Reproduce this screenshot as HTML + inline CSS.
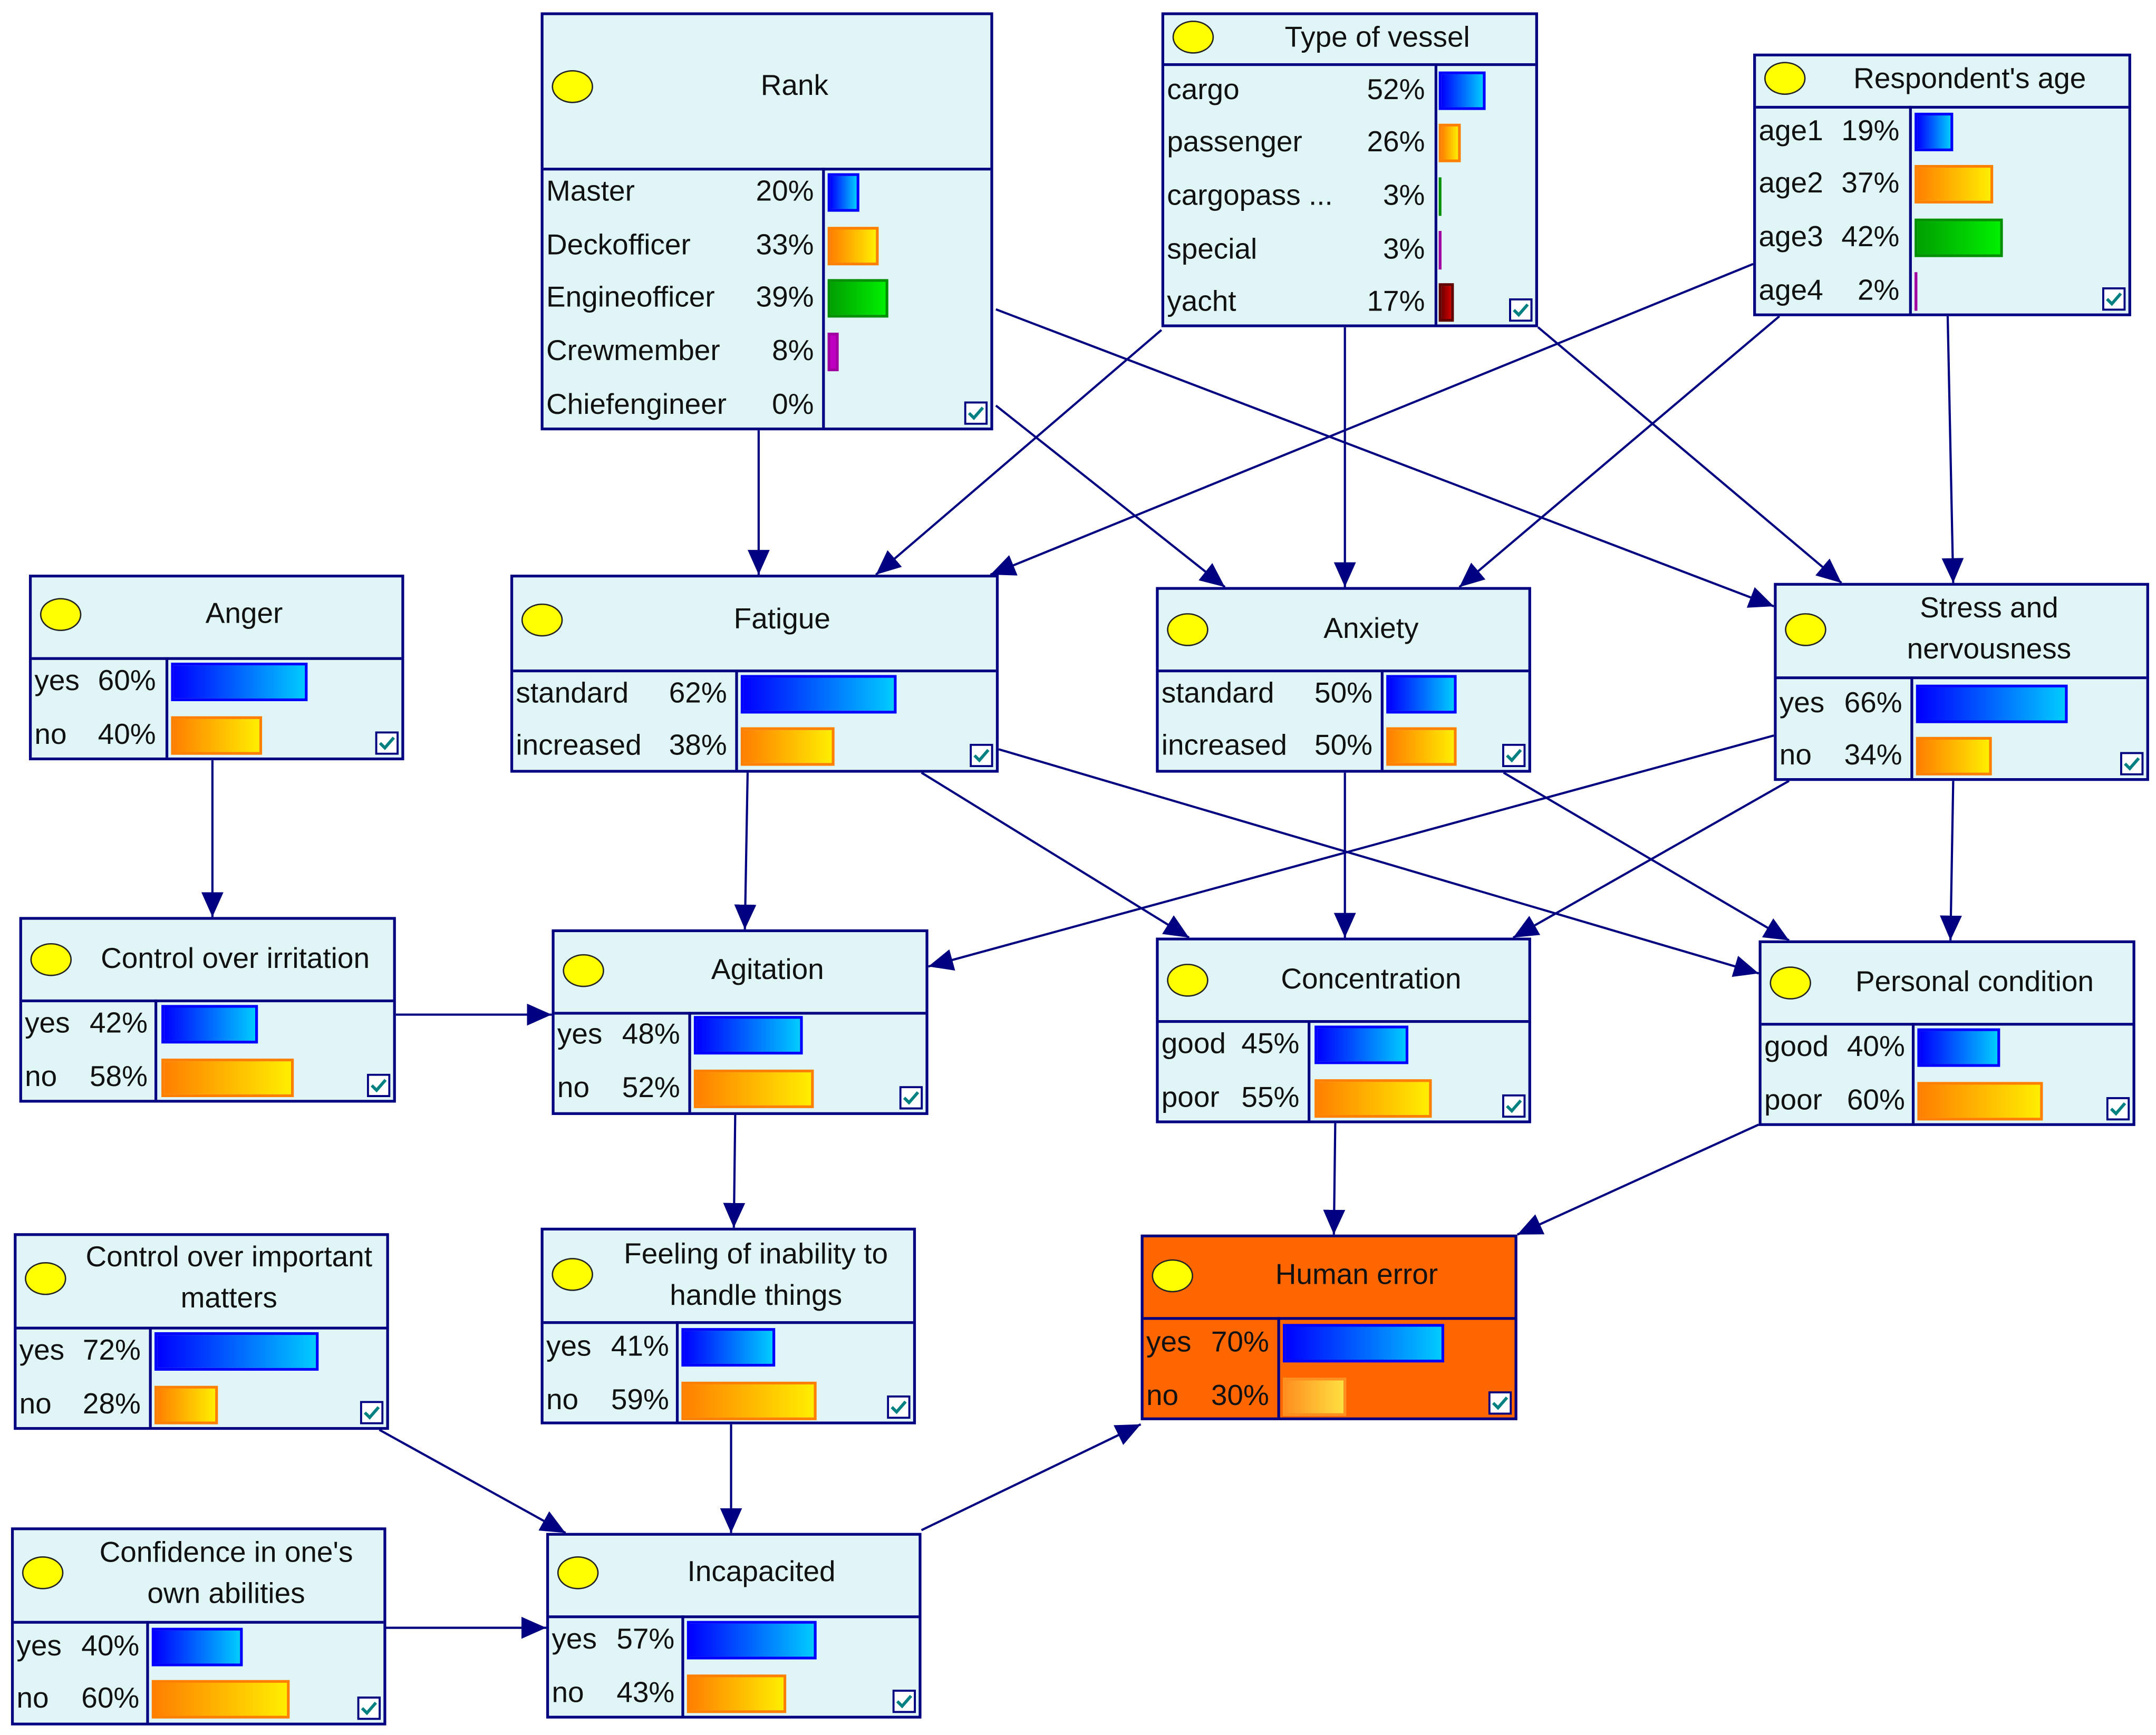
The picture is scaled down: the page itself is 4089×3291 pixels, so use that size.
<!DOCTYPE html>
<html><head><meta charset="utf-8"><style>
html,body{margin:0;padding:0;background:#fff;}
body{width:4089px;height:3291px;overflow:hidden;position:relative;}
#w{position:absolute;left:0;top:0;width:1563px;height:1262px;transform-origin:0 0;transform:scale(2.6161,2.6078);font-family:"Liberation Sans",sans-serif;color:#111;}
.n{position:absolute;background:#e0f6f6;border:2px solid #000080;box-sizing:border-box;}
.he{background:#ff6600;}
.h{position:absolute;left:0;right:0;top:0;border-bottom:2px solid #000080;box-sizing:border-box;}
.c{position:absolute;left:6px;width:30px;height:24px;border-radius:50%;background:#ffff00;border:1.5px solid #222;box-sizing:border-box;}
.t{position:absolute;left:40px;right:0;text-align:center;font-size:21px;line-height:24px;}
.t2{line-height:30px;}
.d{position:absolute;bottom:0;width:2px;background:#000080;}
.l{position:absolute;left:2px;font-size:21px;line-height:24px;white-space:pre;}
.p{position:absolute;left:0;text-align:right;font-size:21px;line-height:24px;}
.b{position:absolute;height:28px;box-sizing:border-box;border:2px solid;}
.bl{background:linear-gradient(to right,#0000ff,#00ccff);border-color:#0000ff;}
.or{background:linear-gradient(to right,#ff8000,#ffee00);border-color:#ff8000;}
.gr{background:linear-gradient(to right,#00a000,#00f000);border-color:#009000;}
.mg{background:#c000c0;border-color:#a000a0;}
.dr{background:linear-gradient(to right,#700000,#d00000);border-color:#600000;}
.fo{background:linear-gradient(to right,#ff9020,#ffe040);border-color:#ff9020;}
.k{position:absolute;right:2px;bottom:2px;width:17px;height:17px;}
</style></head><body><div id="w">

<svg width="1563" height="1262" style="position:absolute;left:0;top:0" xmlns="http://www.w3.org/2000/svg">
<defs><marker id="a" markerUnits="userSpaceOnUse" markerWidth="20" markerHeight="16" refX="18" refY="8" orient="auto"><path d="M0,0 L18,8 L0,16 z" fill="#000080"/></marker></defs>
<g stroke="#000080" stroke-width="1.6" fill="none" marker-end="url(#a)">
<line x1="550" y1="313" x2="550" y2="418"/>
<line x1="722" y1="225" x2="1286" y2="441"/>
<line x1="722" y1="295" x2="888" y2="427"/>
<line x1="842" y1="240" x2="635" y2="418"/>
<line x1="975" y1="238" x2="975" y2="427"/>
<line x1="1115" y1="238" x2="1335" y2="424"/>
<line x1="1271" y1="192" x2="718" y2="418"/>
<line x1="1290" y1="230" x2="1058" y2="427"/>
<line x1="1412" y1="230" x2="1416" y2="424"/>
<line x1="154" y1="553" x2="154" y2="667"/>
<line x1="287" y1="738" x2="400" y2="738"/>
<line x1="542" y1="562" x2="540" y2="676"/>
<line x1="668" y1="562" x2="862" y2="682"/>
<line x1="724" y1="545" x2="1275" y2="708"/>
<line x1="975" y1="562" x2="975" y2="682"/>
<line x1="1090" y1="562" x2="1297" y2="684"/>
<line x1="1286" y1="535" x2="673" y2="703"/>
<line x1="1297" y1="568" x2="1097" y2="682"/>
<line x1="1416" y1="568" x2="1414" y2="684"/>
<line x1="533" y1="811" x2="532" y2="893"/>
<line x1="968" y1="817" x2="967" y2="898"/>
<line x1="1275" y1="818" x2="1100" y2="898"/>
<line x1="530" y1="1036" x2="530" y2="1115"/>
<line x1="275" y1="1040" x2="410" y2="1115"/>
<line x1="280" y1="1184" x2="396" y2="1184"/>
<line x1="668" y1="1113" x2="827" y2="1036"/>
</g></svg>

<!-- Rank -->
<div class="n" style="left:392px;top:9px;width:328px;height:304px">
<div class="h" style="height:113px"></div><div class="c" style="top:40px"></div><div class="t" style="top:40px">Rank</div>
<div class="d" style="left:202px;top:111px"></div>
<div class="l" style="top:117px">Master</div><div class="p" style="top:117px;width:196px">20%</div>
<div class="l" style="top:156px">Deckofficer</div><div class="p" style="top:156px;width:196px">33%</div>
<div class="l" style="top:194px">Engineofficer</div><div class="p" style="top:194px;width:196px">39%</div>
<div class="l" style="top:233px">Crewmember</div><div class="p" style="top:233px;width:196px">8%</div>
<div class="l" style="top:272px">Chiefengineer</div><div class="p" style="top:272px;width:196px">0%</div>
<div class="b bl" style="left:206px;top:115px;width:23px"></div>
<div class="b or" style="left:206px;top:154px;width:37px"></div>
<div class="b gr" style="left:206px;top:192px;width:44px"></div>
<div class="b mg" style="left:206px;top:231px;width:8px"></div>
<svg class="k" viewBox="0 0 17 17"><rect x="0.75" y="0.75" width="15.5" height="15.5" fill="#fff" stroke="#000080" stroke-width="1.5"/><path d="M3.5,8.5 L7,12 L13.5,4.5" stroke="#008080" stroke-width="2.2" fill="none"/></svg>
</div>

<!-- Type of vessel -->
<div class="n" style="left:842px;top:9px;width:273px;height:229px">
<div class="h" style="height:37px"></div><div class="c" style="top:4px"></div><div class="t" style="top:5px">Type of vessel</div>
<div class="d" style="left:196px;top:35px"></div>
<div class="l" style="top:43px">cargo</div><div class="p" style="top:43px;width:189px">52%</div>
<div class="l" style="top:81px">passenger</div><div class="p" style="top:81px;width:189px">26%</div>
<div class="l" style="top:120px">cargopass ...</div><div class="p" style="top:120px;width:189px">3%</div>
<div class="l" style="top:159px">special</div><div class="p" style="top:159px;width:189px">3%</div>
<div class="l" style="top:197px">yacht</div><div class="p" style="top:197px;width:189px">17%</div>
<div class="b bl" style="left:199px;top:41px;width:34px"></div>
<div class="b or" style="left:199px;top:79px;width:16px"></div>
<div class="b gr" style="left:199px;top:118px;width:2px;border-width:1px"></div>
<div class="b mg" style="left:199px;top:157px;width:2px;border-width:1px"></div>
<div class="b dr" style="left:199px;top:195px;width:11px"></div>
<svg class="k" viewBox="0 0 17 17"><rect x="0.75" y="0.75" width="15.5" height="15.5" fill="#fff" stroke="#000080" stroke-width="1.5"/><path d="M3.5,8.5 L7,12 L13.5,4.5" stroke="#008080" stroke-width="2.2" fill="none"/></svg>
</div>

<!-- Respondent's age -->
<div class="n" style="left:1271px;top:39px;width:274px;height:191px">
<div class="h" style="height:38px"></div><div class="c" style="top:4px"></div><div class="t" style="top:5px">Respondent's age</div>
<div class="d" style="left:111px;top:36px"></div>
<div class="l" style="top:43px">age1</div><div class="p" style="top:43px;width:104px">19%</div>
<div class="l" style="top:81px">age2</div><div class="p" style="top:81px;width:104px">37%</div>
<div class="l" style="top:120px">age3</div><div class="p" style="top:120px;width:104px">42%</div>
<div class="l" style="top:159px">age4</div><div class="p" style="top:159px;width:104px">2%</div>
<div class="b bl" style="left:115px;top:41px;width:28px"></div>
<div class="b or" style="left:115px;top:79px;width:57px"></div>
<div class="b gr" style="left:115px;top:118px;width:64px"></div>
<div class="b mg" style="left:115px;top:157px;width:2px;border-width:1px"></div>
<svg class="k" viewBox="0 0 17 17"><rect x="0.75" y="0.75" width="15.5" height="15.5" fill="#fff" stroke="#000080" stroke-width="1.5"/><path d="M3.5,8.5 L7,12 L13.5,4.5" stroke="#008080" stroke-width="2.2" fill="none"/></svg>
</div>

<!-- Anger -->
<div class="n" style="left:21px;top:418px;width:272px;height:135px">
<div class="h" style="height:60px"></div><div class="c" style="top:15px"></div><div class="t" style="top:15px">Anger</div>
<div class="d" style="left:97px;top:58px"></div>
<div class="l" style="top:64px">yes</div><div class="p" style="top:64px;width:90px">60%</div>
<div class="l" style="top:103px">no</div><div class="p" style="top:103px;width:90px">40%</div>
<div class="b bl" style="left:101px;top:62px;width:99px"></div>
<div class="b or" style="left:101px;top:101px;width:66px"></div>
<svg class="k" viewBox="0 0 17 17"><rect x="0.75" y="0.75" width="15.5" height="15.5" fill="#fff" stroke="#000080" stroke-width="1.5"/><path d="M3.5,8.5 L7,12 L13.5,4.5" stroke="#008080" stroke-width="2.2" fill="none"/></svg>
</div>

<!-- Fatigue -->
<div class="n" style="left:370px;top:418px;width:354px;height:144px">
<div class="h" style="height:69px"></div><div class="c" style="top:19px"></div><div class="t" style="top:19px">Fatigue</div>
<div class="d" style="left:161px;top:67px"></div>
<div class="l" style="top:73px">standard</div><div class="p" style="top:73px;width:155px">62%</div>
<div class="l" style="top:111px">increased</div><div class="p" style="top:111px;width:155px">38%</div>
<div class="b bl" style="left:165px;top:71px;width:113px"></div>
<div class="b or" style="left:165px;top:109px;width:68px"></div>
<svg class="k" viewBox="0 0 17 17"><rect x="0.75" y="0.75" width="15.5" height="15.5" fill="#fff" stroke="#000080" stroke-width="1.5"/><path d="M3.5,8.5 L7,12 L13.5,4.5" stroke="#008080" stroke-width="2.2" fill="none"/></svg>
</div>

<!-- Anxiety -->
<div class="n" style="left:838px;top:427px;width:272px;height:135px">
<div class="h" style="height:60px"></div><div class="c" style="top:17px"></div><div class="t" style="top:17px">Anxiety</div>
<div class="d" style="left:161px;top:58px"></div>
<div class="l" style="top:64px">standard</div><div class="p" style="top:64px;width:155px">50%</div>
<div class="l" style="top:102px">increased</div><div class="p" style="top:102px;width:155px">50%</div>
<div class="b bl" style="left:165px;top:62px;width:51px"></div>
<div class="b or" style="left:165px;top:100px;width:51px"></div>
<svg class="k" viewBox="0 0 17 17"><rect x="0.75" y="0.75" width="15.5" height="15.5" fill="#fff" stroke="#000080" stroke-width="1.5"/><path d="M3.5,8.5 L7,12 L13.5,4.5" stroke="#008080" stroke-width="2.2" fill="none"/></svg>
</div>

<!-- Stress -->
<div class="n" style="left:1286px;top:424px;width:272px;height:144px">
<div class="h" style="height:68px"></div><div class="c" style="top:20px"></div><div class="t t2" style="top:2px">Stress and<br>nervousness</div>
<div class="d" style="left:97px;top:66px"></div>
<div class="l" style="top:74px">yes</div><div class="p" style="top:74px;width:91px">66%</div>
<div class="l" style="top:112px">no</div><div class="p" style="top:112px;width:91px">34%</div>
<div class="b bl" style="left:101px;top:72px;width:110px"></div>
<div class="b or" style="left:101px;top:110px;width:55px"></div>
<svg class="k" viewBox="0 0 17 17"><rect x="0.75" y="0.75" width="15.5" height="15.5" fill="#fff" stroke="#000080" stroke-width="1.5"/><path d="M3.5,8.5 L7,12 L13.5,4.5" stroke="#008080" stroke-width="2.2" fill="none"/></svg>
</div>

<!-- Control over irritation -->
<div class="n" style="left:14px;top:667px;width:273px;height:135px">
<div class="h" style="height:60px"></div><div class="c" style="top:17px"></div><div class="t" style="top:17px">Control over irritation</div>
<div class="d" style="left:96px;top:58px"></div>
<div class="l" style="top:64px">yes</div><div class="p" style="top:64px;width:91px">42%</div>
<div class="l" style="top:103px">no</div><div class="p" style="top:103px;width:91px">58%</div>
<div class="b bl" style="left:101px;top:62px;width:70px"></div>
<div class="b or" style="left:101px;top:101px;width:96px"></div>
<svg class="k" viewBox="0 0 17 17"><rect x="0.75" y="0.75" width="15.5" height="15.5" fill="#fff" stroke="#000080" stroke-width="1.5"/><path d="M3.5,8.5 L7,12 L13.5,4.5" stroke="#008080" stroke-width="2.2" fill="none"/></svg>
</div>

<!-- Agitation -->
<div class="n" style="left:400px;top:676px;width:273px;height:135px">
<div class="h" style="height:60px"></div><div class="c" style="top:16px"></div><div class="t" style="top:16px">Agitation</div>
<div class="d" style="left:97px;top:58px"></div>
<div class="l" style="top:63px">yes</div><div class="p" style="top:63px;width:91px">48%</div>
<div class="l" style="top:102px">no</div><div class="p" style="top:102px;width:91px">52%</div>
<div class="b bl" style="left:101px;top:61px;width:79px"></div>
<div class="b or" style="left:101px;top:100px;width:87px"></div>
<svg class="k" viewBox="0 0 17 17"><rect x="0.75" y="0.75" width="15.5" height="15.5" fill="#fff" stroke="#000080" stroke-width="1.5"/><path d="M3.5,8.5 L7,12 L13.5,4.5" stroke="#008080" stroke-width="2.2" fill="none"/></svg>
</div>

<!-- Concentration -->
<div class="n" style="left:838px;top:682px;width:272px;height:135px">
<div class="h" style="height:60px"></div><div class="c" style="top:17px"></div><div class="t" style="top:17px">Concentration</div>
<div class="d" style="left:108px;top:58px"></div>
<div class="l" style="top:64px">good</div><div class="p" style="top:64px;width:102px">45%</div>
<div class="l" style="top:103px">poor</div><div class="p" style="top:103px;width:102px">55%</div>
<div class="b bl" style="left:113px;top:62px;width:68px"></div>
<div class="b or" style="left:113px;top:101px;width:85px"></div>
<svg class="k" viewBox="0 0 17 17"><rect x="0.75" y="0.75" width="15.5" height="15.5" fill="#fff" stroke="#000080" stroke-width="1.5"/><path d="M3.5,8.5 L7,12 L13.5,4.5" stroke="#008080" stroke-width="2.2" fill="none"/></svg>
</div>

<!-- Personal condition -->
<div class="n" style="left:1275px;top:684px;width:273px;height:135px">
<div class="h" style="height:60px"></div><div class="c" style="top:17px"></div><div class="t" style="top:17px">Personal condition</div>
<div class="d" style="left:109px;top:58px"></div>
<div class="l" style="top:64px">good</div><div class="p" style="top:64px;width:104px">40%</div>
<div class="l" style="top:103px">poor</div><div class="p" style="top:103px;width:104px">60%</div>
<div class="b bl" style="left:113px;top:62px;width:60px"></div>
<div class="b or" style="left:113px;top:101px;width:91px"></div>
<svg class="k" viewBox="0 0 17 17"><rect x="0.75" y="0.75" width="15.5" height="15.5" fill="#fff" stroke="#000080" stroke-width="1.5"/><path d="M3.5,8.5 L7,12 L13.5,4.5" stroke="#008080" stroke-width="2.2" fill="none"/></svg>
</div>

<!-- Control over important matters -->
<div class="n" style="left:10px;top:897px;width:272px;height:143px">
<div class="h" style="height:68px"></div><div class="c" style="top:19px"></div><div class="t t2" style="top:1px">Control over important<br>matters</div>
<div class="d" style="left:96px;top:66px"></div>
<div class="l" style="top:72px">yes</div><div class="p" style="top:72px;width:90px">72%</div>
<div class="l" style="top:111px">no</div><div class="p" style="top:111px;width:90px">28%</div>
<div class="b bl" style="left:100px;top:70px;width:119px"></div>
<div class="b or" style="left:100px;top:109px;width:46px"></div>
<svg class="k" viewBox="0 0 17 17"><rect x="0.75" y="0.75" width="15.5" height="15.5" fill="#fff" stroke="#000080" stroke-width="1.5"/><path d="M3.5,8.5 L7,12 L13.5,4.5" stroke="#008080" stroke-width="2.2" fill="none"/></svg>
</div>

<!-- Feeling of inability -->
<div class="n" style="left:392px;top:893px;width:272px;height:143px">
<div class="h" style="height:68px"></div><div class="c" style="top:20px"></div><div class="t t2" style="top:3px">Feeling of inability to<br>handle things</div>
<div class="d" style="left:96px;top:66px"></div>
<div class="l" style="top:73px">yes</div><div class="p" style="top:73px;width:91px">41%</div>
<div class="l" style="top:112px">no</div><div class="p" style="top:112px;width:91px">59%</div>
<div class="b bl" style="left:100px;top:71px;width:68px"></div>
<div class="b or" style="left:100px;top:110px;width:98px"></div>
<svg class="k" viewBox="0 0 17 17"><rect x="0.75" y="0.75" width="15.5" height="15.5" fill="#fff" stroke="#000080" stroke-width="1.5"/><path d="M3.5,8.5 L7,12 L13.5,4.5" stroke="#008080" stroke-width="2.2" fill="none"/></svg>
</div>

<!-- Human error -->
<div class="n he" style="left:827px;top:898px;width:273px;height:135px">
<div class="h" style="height:60px"></div><div class="c" style="top:16px"></div><div class="t" style="top:16px">Human error</div>
<div class="d" style="left:97px;top:58px"></div>
<div class="l" style="top:65px">yes</div><div class="p" style="top:65px;width:91px">70%</div>
<div class="l" style="top:104px">no</div><div class="p" style="top:104px;width:91px">30%</div>
<div class="b bl" style="left:101px;top:63px;width:117px"></div>
<div class="b fo" style="left:101px;top:102px;width:46px"></div>
<svg class="k" viewBox="0 0 17 17"><rect x="0.75" y="0.75" width="15.5" height="15.5" fill="#fff" stroke="#000080" stroke-width="1.5"/><path d="M3.5,8.5 L7,12 L13.5,4.5" stroke="#008080" stroke-width="2.2" fill="none"/></svg>
</div>

<!-- Confidence -->
<div class="n" style="left:8px;top:1111px;width:272px;height:144px">
<div class="h" style="height:68px"></div><div class="c" style="top:19px"></div><div class="t t2" style="top:2px">Confidence in one's<br>own abilities</div>
<div class="d" style="left:96px;top:66px"></div>
<div class="l" style="top:73px">yes</div><div class="p" style="top:73px;width:91px">40%</div>
<div class="l" style="top:111px">no</div><div class="p" style="top:111px;width:91px">60%</div>
<div class="b bl" style="left:100px;top:71px;width:66px"></div>
<div class="b or" style="left:100px;top:109px;width:100px"></div>
<svg class="k" viewBox="0 0 17 17"><rect x="0.75" y="0.75" width="15.5" height="15.5" fill="#fff" stroke="#000080" stroke-width="1.5"/><path d="M3.5,8.5 L7,12 L13.5,4.5" stroke="#008080" stroke-width="2.2" fill="none"/></svg>
</div>

<!-- Incapacited -->
<div class="n" style="left:396px;top:1115px;width:272px;height:135px">
<div class="h" style="height:60px"></div><div class="c" style="top:15px"></div><div class="t" style="top:15px">Incapacited</div>
<div class="d" style="left:96px;top:58px"></div>
<div class="l" style="top:64px">yes</div><div class="p" style="top:64px;width:91px">57%</div>
<div class="l" style="top:103px">no</div><div class="p" style="top:103px;width:91px">43%</div>
<div class="b bl" style="left:100px;top:62px;width:94px"></div>
<div class="b or" style="left:100px;top:101px;width:72px"></div>
<svg class="k" viewBox="0 0 17 17"><rect x="0.75" y="0.75" width="15.5" height="15.5" fill="#fff" stroke="#000080" stroke-width="1.5"/><path d="M3.5,8.5 L7,12 L13.5,4.5" stroke="#008080" stroke-width="2.2" fill="none"/></svg>
</div>

</div></body></html>
